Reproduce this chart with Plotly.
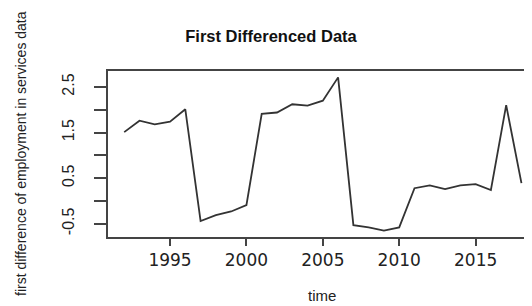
import plotly.graph_objects as go

years = list(range(1992, 2019))
values = [1.51, 1.76, 1.68, 1.74, 2.01, -0.44, -0.31, -0.23, -0.09, 1.91,
          1.94, 2.12, 2.09, 2.20, 2.71, -0.53, -0.58, -0.65, -0.58, 0.28,
          0.34, 0.26, 0.34, 0.37, 0.24, 2.10, 0.39]

x_ticks = [1995, 2000, 2005, 2010, 2015]
y_ticks = [-0.5, 0.0, 0.5, 1.0, 1.5, 2.0, 2.5]
y_ticktext = ["-0.5", "", "0.5", "", "1.5", "", "2.5"]

title = "First Differenced Data"
x_title = "time"
y_title = "first difference of employment in services data"

# the page body has an 8px default margin, so work in shifted coordinates
OFF = 8
W, H = 532 - OFF, 306 - OFF
L, T = 108 - OFF, 71 - OFF
BOTTOM = 237 - OFF
B = H - BOTTOM

fig = go.Figure()
fig.add_trace(go.Scatter(x=years, y=values, mode="lines",
                         line=dict(color="#333333", width=1.8),
                         hoverinfo="skip", showlegend=False))

fig.update_layout(
    width=W, height=H,
    margin=dict(l=L, r=0, t=T, b=B, pad=0),
    paper_bgcolor="white", plot_bgcolor="white",
    title=dict(text="<b>" + title + "</b>", x=(271 - OFF) / W, xanchor="center",
               y=1 - (36 - OFF) / H, yanchor="middle", xref="container", yref="container",
               font=dict(family="Liberation Sans", size=16.5, color="#111111")),
    xaxis=dict(range=[1990.94, 2018.69], tickvals=x_ticks,
               ticktext=[str(v) for v in x_ticks],
               showgrid=False, zeroline=False, showline=True, mirror=True,
               linecolor="#444444", linewidth=1.6,
               ticks="outside", ticklen=7, tickwidth=1.6, tickcolor="#444444",
               ticklabelstandoff=0,
               tickfont=dict(family="DejaVu Sans", size=17, color="#222222")),
    yaxis=dict(range=[-0.79, 2.85], tickvals=y_ticks, ticktext=y_ticktext,
               showgrid=False, zeroline=False, showline=True, mirror=False,
               linecolor="#444444", linewidth=1.6,
               ticks="outside", ticklen=12, tickwidth=1.6, tickcolor="#444444",
               tickangle=-90, ticklabelstandoff=14,
               tickfont=dict(family="Liberation Sans", size=16, color="#222222")),
    annotations=[
        dict(text=y_title, xref="paper", yref="paper",
             x=(21 - 108) / (W - L), y=0.5, xanchor="center", yanchor="middle",
             textangle=-90, showarrow=False,
             font=dict(family="Liberation Sans", size=14, color="#222222")),
        dict(text=x_title, xref="paper", yref="paper",
             x=(322 - 108) / (W - L), y=-(295 - 237) / (237 - 71),
             xanchor="center", yanchor="middle", showarrow=False,
             font=dict(family="Liberation Sans", size=15, color="#222222")),
    ],
)

fig.write_html("out.html")
